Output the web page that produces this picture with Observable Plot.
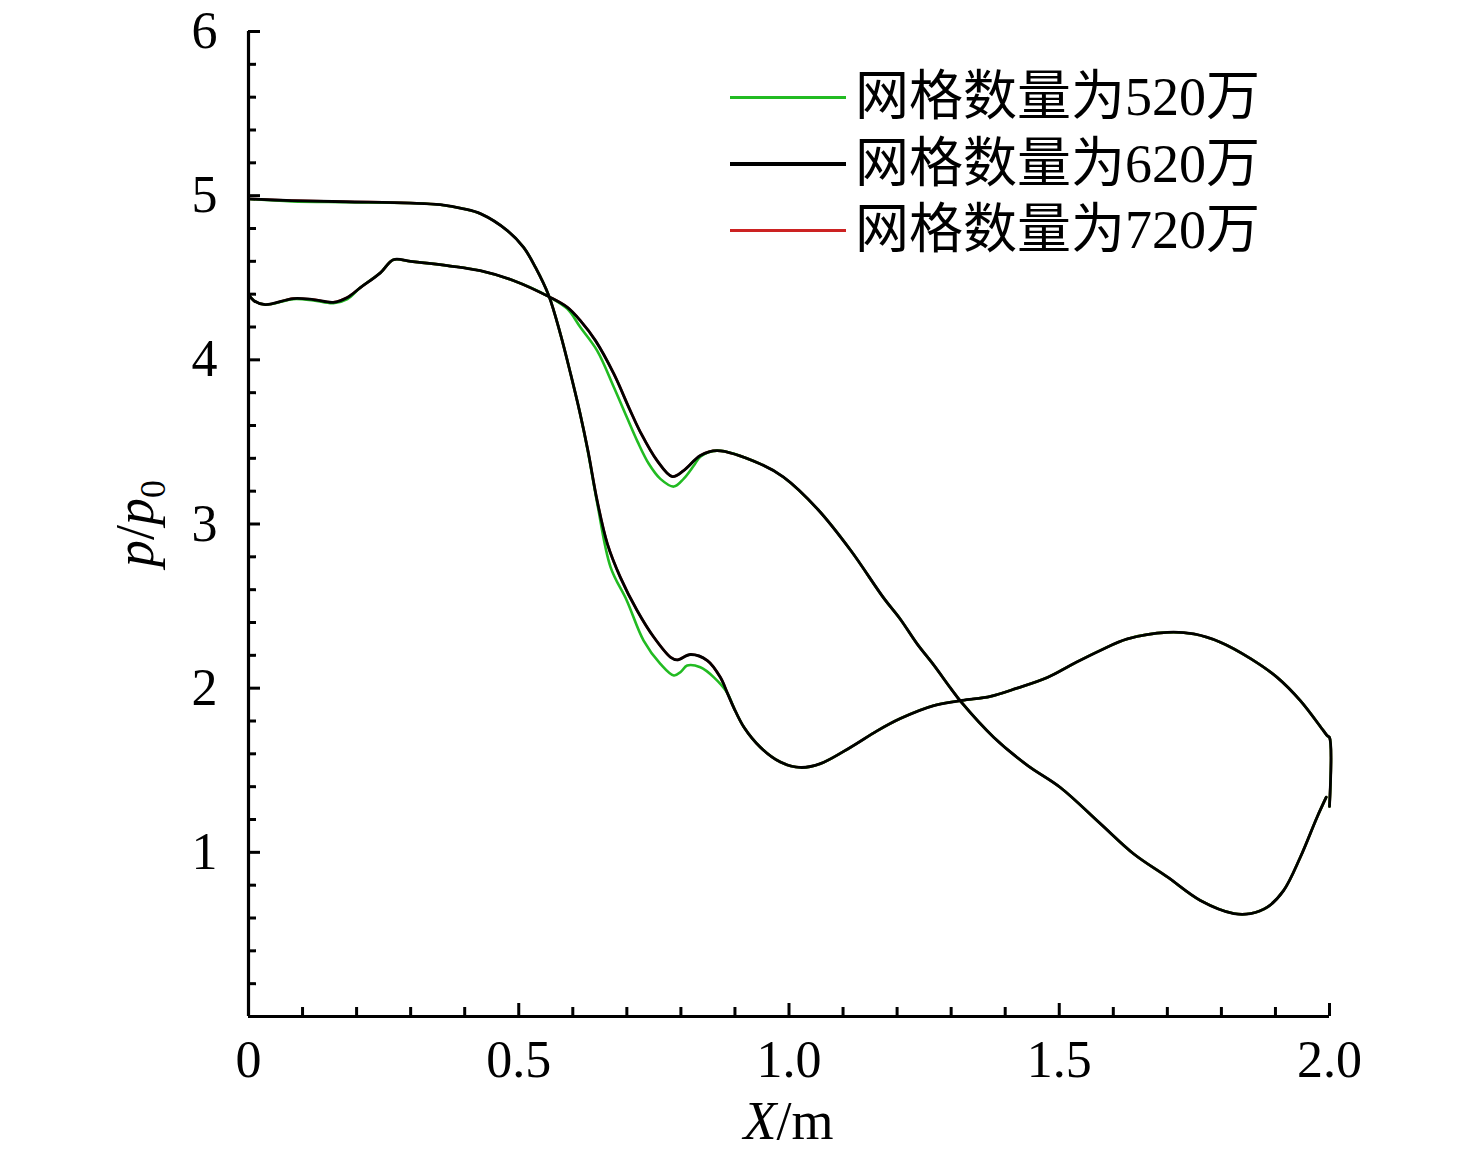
<!DOCTYPE html>
<html>
<head>
<meta charset="utf-8">
<script src="https://cdn.jsdelivr.net/npm/d3@7"></script>
<script src="https://cdn.jsdelivr.net/npm/@observablehq/plot@0.6"></script>
<style>
html, body { margin: 0; padding: 0; background: #fff; overflow: hidden; }
#wrap { position: relative; width: 1476px; height: 1157px; }
#legend { position: absolute; left: 0; top: 0; font-family: "Liberation Serif", "Noto Sans CJK SC", serif; color: #000; }
.row { position: absolute; left: 730px; display: flex; align-items: center; height: 60px; white-space: nowrap; }
.swatch { width: 116px; }
.lab { margin-left: 9px; font-size: 54px; line-height: 60px; }
svg g[aria-label="x-axis tick"], svg g[aria-label="y-axis tick"] { stroke-width: 3px; }
</style>
</head>
<body>
<div id="wrap"><div id="legend"></div></div>
<script>
// ---- Series names / colours ----
const seriesNames = ["网格数量为520万", "网格数量为620万", "网格数量为720万"];
const seriesColors = ["#22bb22", "#000000", "#cc2222"];

// ---- Tick values ----
const xMajor = [0, 0.5, 1.0, 1.5, 2.0];
const xMinor = [0.1, 0.2, 0.3, 0.4, 0.6, 0.7, 0.8, 0.9, 1.1, 1.2, 1.3, 1.4, 1.6, 1.7, 1.8, 1.9];
const yMajor = [1, 2, 3, 4, 5, 6];
const yMinor = [0.2, 0.4, 0.6, 0.8, 1.2, 1.4, 1.6, 1.8, 2.2, 2.4, 2.6, 2.8, 3.2, 3.4, 3.6, 3.8, 4.2, 4.4, 4.6, 4.8, 5.2, 5.4, 5.6, 5.8];

// ---- 620万 (black) : branch A (starts at p/p0≈5) ----
const x620A = [0, 0.08, 0.18, 0.30, 0.355, 0.398, 0.43, 0.479, 0.509, 0.531, 0.5556, 0.577, 0.596, 0.613, 0.628, 0.645, 0.664, 0.688, 0.719, 0.75, 0.781, 0.793, 0.818, 0.849, 0.873, 0.886, 0.898, 0.917, 0.947, 0.984, 1.021, 1.058, 1.114, 1.163, 1.206, 1.268, 1.32, 1.373, 1.422, 1.478, 1.527, 1.576, 1.626, 1.70, 1.749, 1.798, 1.854, 1.903, 1.946, 1.989, 1.996, 2.0, 2.0];
const p620A = [4.98, 4.97, 4.963, 4.955, 4.945, 4.92, 4.889, 4.787, 4.685, 4.563, 4.391, 4.158, 3.914, 3.68, 3.447, 3.143, 2.879, 2.675, 2.473, 2.31, 2.188, 2.172, 2.205, 2.168, 2.066, 1.97, 1.88, 1.76, 1.64, 1.55, 1.517, 1.54, 1.64, 1.74, 1.815, 1.894, 1.925, 1.95, 2.0, 2.065, 2.15, 2.23, 2.30, 2.34, 2.33, 2.28, 2.18, 2.066, 1.924, 1.74, 1.71, 1.70, 1.28];
// ---- 620万 (black) : branch B (starts at p/p0≈4.4) ----
const x620B = [0, 0.01, 0.031, 0.083, 0.12, 0.157, 0.183, 0.207, 0.244, 0.268, 0.30, 0.368, 0.429, 0.491, 0.5556, 0.59, 0.614, 0.642, 0.676, 0.705, 0.725, 0.756, 0.784, 0.805, 0.836, 0.867, 0.947, 0.99, 1.053, 1.114, 1.175, 1.206, 1.237, 1.268, 1.299, 1.32, 1.379, 1.441, 1.502, 1.576, 1.638, 1.70, 1.761, 1.823, 1.854, 1.885, 1.915, 1.946, 1.977, 1.994];
const p620B = [4.40, 4.36, 4.336, 4.373, 4.367, 4.35, 4.38, 4.44, 4.53, 4.61, 4.60, 4.574, 4.543, 4.482, 4.385, 4.32, 4.239, 4.117, 3.914, 3.70, 3.56, 3.386, 3.289, 3.325, 3.417, 3.447, 3.366, 3.285, 3.09, 2.84, 2.55, 2.42, 2.27, 2.14, 2.0, 1.91, 1.70, 1.53, 1.395, 1.175, 0.99, 0.85, 0.707, 0.627, 0.627, 0.666, 0.767, 0.97, 1.214, 1.336];

// ---- 520万 (green) : branch A ----
const x520A = [0, 0.08, 0.18, 0.30, 0.355, 0.398, 0.43, 0.479, 0.509, 0.531, 0.5556, 0.577, 0.596, 0.613, 0.628, 0.645, 0.67, 0.70, 0.731, 0.762, 0.787, 0.80, 0.8116, 0.836, 0.861, 0.886, 0.898, 0.917, 0.947, 0.984, 1.021, 1.058, 1.114, 1.163, 1.206, 1.268, 1.32, 1.373, 1.422, 1.478, 1.527, 1.576, 1.626, 1.70, 1.749, 1.798, 1.854, 1.903, 1.946, 1.989, 1.996, 2.0, 2.0];
const p520A = [4.98, 4.965, 4.96, 4.955, 4.945, 4.92, 4.889, 4.787, 4.685, 4.563, 4.391, 4.158, 3.914, 3.68, 3.44, 3.13, 2.736, 2.533, 2.29, 2.148, 2.077, 2.10, 2.138, 2.127, 2.066, 1.97, 1.88, 1.76, 1.64, 1.55, 1.517, 1.54, 1.64, 1.74, 1.815, 1.894, 1.925, 1.95, 2.0, 2.065, 2.15, 2.23, 2.30, 2.34, 2.33, 2.28, 2.18, 2.066, 1.924, 1.74, 1.71, 1.70, 1.28];
// ---- 520万 (green) : branch B ----
const x520B = [0, 0.01, 0.031, 0.083, 0.12, 0.157, 0.183, 0.207, 0.244, 0.268, 0.30, 0.368, 0.429, 0.491, 0.5556, 0.59, 0.614, 0.645, 0.676, 0.70, 0.72, 0.74, 0.762, 0.787, 0.805, 0.824, 0.836, 0.867, 0.947, 0.99, 1.053, 1.114, 1.175, 1.206, 1.237, 1.268, 1.299, 1.32, 1.379, 1.441, 1.502, 1.576, 1.638, 1.70, 1.761, 1.823, 1.854, 1.885, 1.915, 1.946, 1.977, 1.994];
const p520B = [4.40, 4.36, 4.336, 4.37, 4.362, 4.345, 4.37, 4.44, 4.53, 4.61, 4.60, 4.574, 4.543, 4.482, 4.385, 4.31, 4.198, 4.056, 3.833, 3.65, 3.50, 3.37, 3.275, 3.228, 3.275, 3.356, 3.41, 3.447, 3.366, 3.285, 3.09, 2.84, 2.55, 2.42, 2.27, 2.14, 2.0, 1.91, 1.70, 1.53, 1.395, 1.175, 0.99, 0.85, 0.707, 0.627, 0.627, 0.666, 0.767, 0.97, 1.214, 1.336];

// ---- 720万 (red) : read as indistinguishable from 620万 ----
const x720A = [0, 0.08, 0.18, 0.30, 0.355, 0.398, 0.43, 0.479, 0.509, 0.531, 0.5556, 0.577, 0.596, 0.613, 0.628, 0.645, 0.664, 0.688, 0.719, 0.75, 0.781, 0.793, 0.818, 0.849, 0.873, 0.886, 0.898, 0.917, 0.947, 0.984, 1.021, 1.058, 1.114, 1.163, 1.206, 1.268, 1.32, 1.373, 1.422, 1.478, 1.527, 1.576, 1.626, 1.70, 1.749, 1.798, 1.854, 1.903, 1.946, 1.989, 1.996, 2.0, 2.0];
const p720A = [4.98, 4.97, 4.963, 4.955, 4.945, 4.92, 4.889, 4.787, 4.685, 4.563, 4.391, 4.158, 3.914, 3.68, 3.447, 3.143, 2.879, 2.675, 2.473, 2.31, 2.188, 2.172, 2.205, 2.168, 2.066, 1.97, 1.88, 1.76, 1.64, 1.55, 1.517, 1.54, 1.64, 1.74, 1.815, 1.894, 1.925, 1.95, 2.0, 2.065, 2.15, 2.23, 2.30, 2.34, 2.33, 2.28, 2.18, 2.066, 1.924, 1.74, 1.71, 1.70, 1.28];
const x720B = [0, 0.01, 0.031, 0.083, 0.12, 0.157, 0.183, 0.207, 0.244, 0.268, 0.30, 0.368, 0.429, 0.491, 0.5556, 0.59, 0.614, 0.642, 0.676, 0.705, 0.725, 0.756, 0.784, 0.805, 0.836, 0.867, 0.947, 0.99, 1.053, 1.114, 1.175, 1.206, 1.237, 1.268, 1.299, 1.32, 1.379, 1.441, 1.502, 1.576, 1.638, 1.70, 1.761, 1.823, 1.854, 1.885, 1.915, 1.946, 1.977, 1.994];
const p720B = [4.40, 4.36, 4.336, 4.373, 4.367, 4.35, 4.38, 4.44, 4.53, 4.61, 4.60, 4.574, 4.543, 4.482, 4.385, 4.32, 4.239, 4.117, 3.914, 3.70, 3.56, 3.386, 3.289, 3.325, 3.417, 3.447, 3.366, 3.285, 3.09, 2.84, 2.55, 2.42, 2.27, 2.14, 2.0, 1.91, 1.70, 1.53, 1.395, 1.175, 0.99, 0.85, 0.707, 0.627, 0.627, 0.666, 0.767, 0.97, 1.214, 1.336];

function rows(branch, xs, ps) { return xs.map((x, i) => ({branch, x, p: ps[i]})); }
const d520 = rows("A", x520A, p520A).concat(rows("B", x520B, p520B));
const d620 = rows("A", x620A, p620A).concat(rows("B", x620B, p620B));
const d720 = rows("A", x720A, p720A).concat(rows("B", x720B, p720B));

const xFmt = d => d === 0 ? "0" : d.toFixed(1);
const yFmt = d => String(d);

const plot = Plot.plot({
  width: 1476,
  height: 1157,
  marginLeft: 248,
  marginRight: 147,
  marginTop: 31,
  marginBottom: 141,
  style: {fontFamily: "Liberation Serif", background: "white", color: "black", overflow: "visible"},
  x: {domain: [0, 2]},
  y: {domain: [0, 6]},
  marks: [
    Plot.line(d720, {x: "x", y: "p", z: "branch", stroke: seriesColors[2], strokeWidth: 2.6, curve: "catmull-rom"}),
    Plot.line(d520, {x: "x", y: "p", z: "branch", stroke: seriesColors[0], strokeWidth: 2.6, curve: "catmull-rom"}),
    Plot.line(d620, {x: "x", y: "p", z: "branch", stroke: seriesColors[1], strokeWidth: 2.8, curve: "catmull-rom"}),
    // ticks (inward)
    Plot.axisX({ticks: xMinor, tickSize: -9, strokeWidth: 3, fill: "none", label: null}),
    Plot.axisX({ticks: xMajor, tickSize: -13, strokeWidth: 3, fill: "none", label: null}),
    Plot.axisY({ticks: yMinor, tickSize: -8, strokeWidth: 3, fill: "none", label: null}),
    Plot.axisY({ticks: yMajor, tickSize: -12, strokeWidth: 3, fill: "none", label: null}),
    // labels
    Plot.axisX({ticks: xMajor, tickSize: 0, tickPadding: 24, fontSize: 52, tickFormat: xFmt, label: null}),
    Plot.axisY({ticks: yMajor, tickSize: 0, tickPadding: 31, fontSize: 52, tickFormat: yFmt, label: null}),
    // axis lines
    Plot.ruleX([0], {strokeWidth: 3.2}),
    Plot.ruleY([0], {strokeWidth: 3.2})
  ]
});
document.getElementById("wrap").prepend(plot);

// Axis titles with rich text
const sx = plot.scale("x"), sy = plot.scale("y");
const svg = d3.select(plot);
const xt = svg.append("text")
  .attr("x", sx.apply(1)).attr("y", 1139)
  .attr("text-anchor", "middle")
  .style("font-family", "Liberation Serif").style("font-size", "54px").attr("fill", "black");
xt.append("tspan").style("font-style", "italic").text("X");
xt.append("tspan").text("/m");

const yt = svg.append("text")
  .attr("transform", `translate(153,${sy.apply(3)}) rotate(-90)`)
  .attr("text-anchor", "middle")
  .style("font-family", "Liberation Serif").style("font-size", "54px").attr("fill", "black");
yt.append("tspan").style("font-style", "italic").text("p");
yt.append("tspan").text("/");
yt.append("tspan").style("font-style", "italic").text("p");
yt.append("tspan").attr("dy", 12).style("font-size", "36px").text("0");

// Legend
const legendTops = [67, 134, 200];
const legend = d3.select("#legend");
seriesNames.forEach((name, i) => {
  const row = legend.append("div").attr("class", "row").style("top", legendTops[i] + "px");
  row.append("div").attr("class", "swatch")
    .style("height", i === 1 ? "4px" : "3px")
    .style("background", seriesColors[i]);
  row.append("div").attr("class", "lab").text(name);
});
</script>
</body>
</html>
